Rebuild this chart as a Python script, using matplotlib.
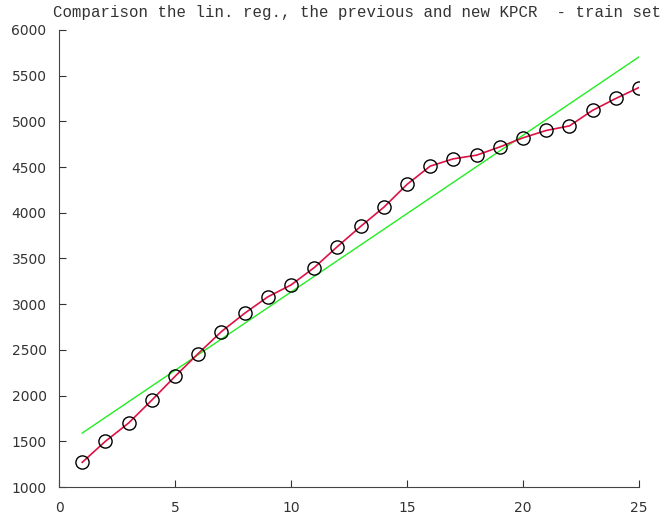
import matplotlib
matplotlib.use("Agg")
import matplotlib.pyplot as plt

x = list(range(1, 26))
kpcr = [1270, 1500, 1700, 1950, 2210, 2460, 2700, 2900, 3080, 3210,
        3400, 3630, 3850, 4060, 4310, 4510, 4590, 4630, 4720, 4820,
        4900, 4950, 5120, 5250, 5370]
linreg_x = [1, 25]
linreg_y = [1590, 5705]
xticks = [0, 5, 10, 15, 20, 25]
yticks = [1000, 1500, 2000, 2500, 3000, 3500, 4000, 4500, 5000, 5500, 6000]

fig = plt.figure(figsize=(6.67, 5.16), dpi=100)
ax = fig.add_axes([0.0885, 0.0562, 0.8695, 0.8858])
ax.plot(linreg_x, linreg_y, color="#22ee22", lw=1.0)
ax.plot(x, kpcr, color="#dd1144", lw=1.2)
ax.plot(x, kpcr, ls="none", marker="o", ms=9.5, mfc="none", mec="black", mew=1.0)
ax.set_xlim(0, 25)
ax.set_ylim(1000, 6000)
ax.set_xticks(xticks)
ax.set_yticks(yticks)
for s in ["top", "right"]:
    ax.spines[s].set_visible(False)
for s in ["left", "bottom"]:
    ax.spines[s].set_color("#444444")
ax.tick_params(direction="in", length=5, labelsize=10, colors="#333333")
ax.tick_params(axis="y", pad=9)
ax.tick_params(axis="x", pad=10)
fig.text(0.535, 0.975, "Comparison the lin. reg., the previous and new KPCR  - train set",
         ha="center", va="center", family="Liberation Mono", fontsize=11.3, color="#333333")
fig.savefig("out.png", dpi=100)
